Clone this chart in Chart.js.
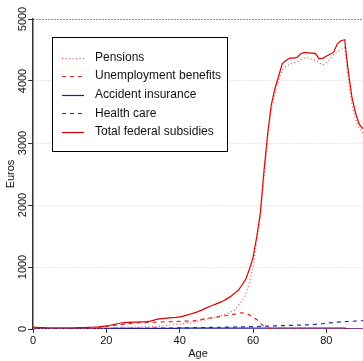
<!DOCTYPE html>
<html>
<head>
<meta charset="utf-8">
<script src="https://cdn.jsdelivr.net/npm/chart.js@4/dist/chart.umd.min.js"></script>
<style>
  html, body { margin: 0; padding: 0; background: #fff; }
  canvas { display: block; }
</style>
</head>
<body>
<canvas id="chart" width="363" height="361"></canvas>
<script>
// Data (monthly euros by age)
const ages = [0, 1, 2, 3, 4, 5, 6, 7, 8, 9, 10, 11, 12, 13, 14, 15, 16, 17, 18, 19,
  20, 21, 22, 23, 24, 25, 26, 27, 28, 29, 30, 31, 32, 33, 34, 35, 36, 37, 38, 39,
  40, 41, 42, 43, 44, 45, 46, 47, 48, 49, 50, 51, 52, 53, 54, 55, 56, 57, 58, 59,
  60, 61, 62, 63, 64, 65, 66, 67, 68, 69, 70, 71, 72, 73, 74, 75, 76, 77, 78, 79,
  80, 81, 82, 83, 84, 85, 86, 87, 88, 89, 90];

const pensions = [3, 3, 3, 3, 3, 3, 3, 3, 3, 3, 3, 3, 3, 3, 3, 3, 4, 5, 7, 9,
  12, 15, 18, 22, 26, 28, 29, 30, 31, 32, 33, 34, 36, 38, 42, 48, 55, 62, 68, 74,
  80, 88, 97, 106, 115, 125, 138, 152, 166, 178, 195, 212, 230, 250, 280, 310, 380, 450, 560, 740,
  1000, 1400, 1790, 2420, 3050, 3540, 3800, 4000, 4180, 4240, 4270, 4290, 4310, 4340, 4375, 4370, 4350, 4335, 4290, 4260,
  4300, 4350, 4430, 4470, 4510, 4540, 4000, 3620, 3380, 3230, 3150];

const unemployment = [2, 2, 2, 2, 2, 2, 2, 2, 2, 2, 2, 2, 2, 2, 3, 5, 8, 12, 20, 30,
  40, 50, 58, 65, 72, 80, 86, 92, 96, 100, 103, 105, 107, 109, 111, 113, 115, 117, 118, 120,
  122, 125, 127, 129, 132, 142, 155, 166, 175, 182, 192, 200, 208, 218, 228, 240, 252, 262, 255, 228,
  190, 155, 95, 42, 15, 6, 3, 2, 2, 2, 2, 2, 2, 2, 2, 2, 2, 2, 2, 2,
  2, 2, 2, 2, 2, 2, 2, 2, 2, 2, 2];

const accident = [6, 6, 6, 6, 6, 6, 6, 6, 6, 6, 6, 6, 6, 6, 6, 6, 6, 6, 10, 10,
  10, 10, 10, 10, 10, 10, 10, 10, 10, 10, 10, 10, 10, 10, 10, 10, 10, 10, 10, 10,
  15, 15, 15, 15, 15, 15, 15, 15, 15, 15, 15, 15, 15, 15, 15, 15, 15, 15, 15, 15,
  15, 15, 15, 15, 15, 15, 15, 15, 15, 15, 15, 15, 15, 15, 15, 15, 15, 15, 15, 15,
  15, 15, 15, 15, 15, 15, 3, 3, 3, 3, 3];

const healthCare = [6, 6, 6, 6, 6, 6, 6, 6, 6, 6, 6, 6, 6, 6, 6, 6, 6, 6, 6, 6,
  8, 8, 9, 9, 10, 10, 10, 11, 11, 12, 12, 12, 13, 13, 14, 14, 15, 15, 16, 17,
  18, 18, 19, 20, 21, 22, 23, 24, 25, 26, 27, 28, 29, 30, 31, 32, 34, 35, 36, 37,
  38, 40, 42, 44, 46, 48, 50, 52, 54, 56, 58, 60, 62, 64, 66, 68, 71, 75, 80, 85,
  95, 100, 105, 110, 115, 118, 121, 124, 128, 132, 135];

const totalSubsidies = [30, 26, 23, 21, 19, 18, 17, 17, 18, 18, 19, 20, 21, 22, 24, 26, 28, 31, 35, 42,
  50, 60, 72, 85, 97, 104, 108, 110, 112, 114, 116, 120, 128, 142, 158, 167, 172, 178, 183, 188,
  195, 207, 224, 242, 260, 280, 305, 332, 358, 382, 405, 430, 455, 490, 530, 575, 625, 710, 800, 960,
  1150, 1480, 1870, 2550, 3150, 3620, 3880, 4080, 4280, 4330, 4370, 4370, 4380, 4440, 4460, 4455, 4450, 4445, 4360, 4365,
  4400, 4430, 4465, 4600, 4650, 4665, 4150, 3730, 3480, 3300, 3230];

const seriesNames = ["Pensions", "Unemployment benefits", "Accident insurance", "Health care", "Total federal subsidies"];
const yTicks = [0, 1000, 2000, 3000, 4000, 5000];
const xTicks = [0, 20, 40, 60, 80];

const FONT = "'Liberation Sans', Arial, Helvetica, sans-serif";

function points(values) {
  return ages.map((a, i) => ({ x: a, y: values[i] }));
}

// legend box drawn inside the plot, like the original figure
const boxLegend = {
  id: "boxLegend",
  afterDraw(chart) {
    const ctx = chart.ctx;
    const left = 52, top = 37, right = 227, bottom = 151;
    ctx.save();
    ctx.fillStyle = "#fff";
    ctx.fillRect(left, top, right - left, bottom - top);
    ctx.strokeStyle = "#000";
    ctx.lineWidth = 1;
    ctx.strokeRect(left + 0.5, top + 0.5, right - left, bottom - top);
    ctx.font = "12px " + FONT;
    ctx.textBaseline = "middle";
    chart.data.datasets.forEach((ds, i) => {
      const y = 57.5 + i * 18.6;
      ctx.beginPath();
      ctx.setLineDash(ds.borderDash || []);
      ctx.strokeStyle = ds.borderColor;
      ctx.lineWidth = ds.borderWidth;
      ctx.moveTo(62, Math.round(y) + 0.5);
      ctx.lineTo(84, Math.round(y) + 0.5);
      ctx.stroke();
      ctx.setLineDash([]);
      ctx.fillStyle = "#111";
      ctx.fillText(ds.label, 95, y);
    });
    ctx.restore();
  }
};

const styles = [
  { color: "#ee4848", dash: [1, 2.5] },
  { color: "#dd2222", dash: [4, 4] },
  { color: "#1c1ca8", dash: [] },
  { color: "#2a2aa6", dash: [4, 4] },
  { color: "#dd0000", dash: [] }
];
const values = [pensions, unemployment, accident, healthCare, totalSubsidies];

new Chart(document.getElementById("chart"), {
  type: "line",
  data: {
    datasets: seriesNames.map((name, i) => ({
      label: name,
      data: points(values[i]),
      borderColor: styles[i].color,
      borderDash: styles[i].dash,
      borderWidth: 1.2,
      pointRadius: 0,
      tension: 0,
      fill: false
    }))
  },
  options: {
    responsive: false,
    devicePixelRatio: 1,
    animation: false,
    layout: { padding: { top: 19, right: 0, left: 0, bottom: 0 } },
    plugins: { legend: { display: false }, tooltip: { enabled: false } },
    scales: {
      x: {
        type: "linear",
        min: 0,
        max: 90,
        afterBuildTicks: (scale) => { scale.ticks = xTicks.map(v => ({ value: v })); },
        afterFit: (scale) => { scale.height = 32; },
        border: { display: false },
        grid: { drawOnChartArea: false, drawTicks: true, tickLength: 4, tickColor: "#333" },
        ticks: { color: "#111", font: { family: FONT, size: 11 }, padding: 1, maxRotation: 0, callback: (v) => String(v) },
        title: { display: true, text: "Age", color: "#111", font: { family: FONT, size: 11 }, padding: { top: 0, bottom: 0 } }
      },
      y: {
        min: 0,
        max: 5000,
        afterBuildTicks: (scale) => { scale.ticks = yTicks.map(v => ({ value: v })); },
        afterFit: (scale) => { scale.width = 33; },
        border: { display: true, color: "#333", width: 1.5, dash: [1, 2] },
        grid: {
          color: (c) => (c.tick && c.tick.value === 5000 ? "#222" : (c.tick && c.tick.value === 0 ? "rgba(0,0,0,0)" : "#cfcfcf")),
          drawTicks: true,
          tickLength: 5,
          tickColor: "#333",
          tickBorderDash: []
        },
        ticks: {
          color: "#111",
          font: { family: FONT, size: 11 },
          minRotation: 90,
          maxRotation: 90,
          crossAlign: "center",
          padding: -7,
          callback: (v) => String(v)
        },
        title: { display: true, text: "Euros", color: "#111", font: { family: FONT, size: 11 }, padding: { top: 4, bottom: 0 } }
      }
    }
  },
  plugins: [boxLegend]
});
</script>
</body>
</html>
